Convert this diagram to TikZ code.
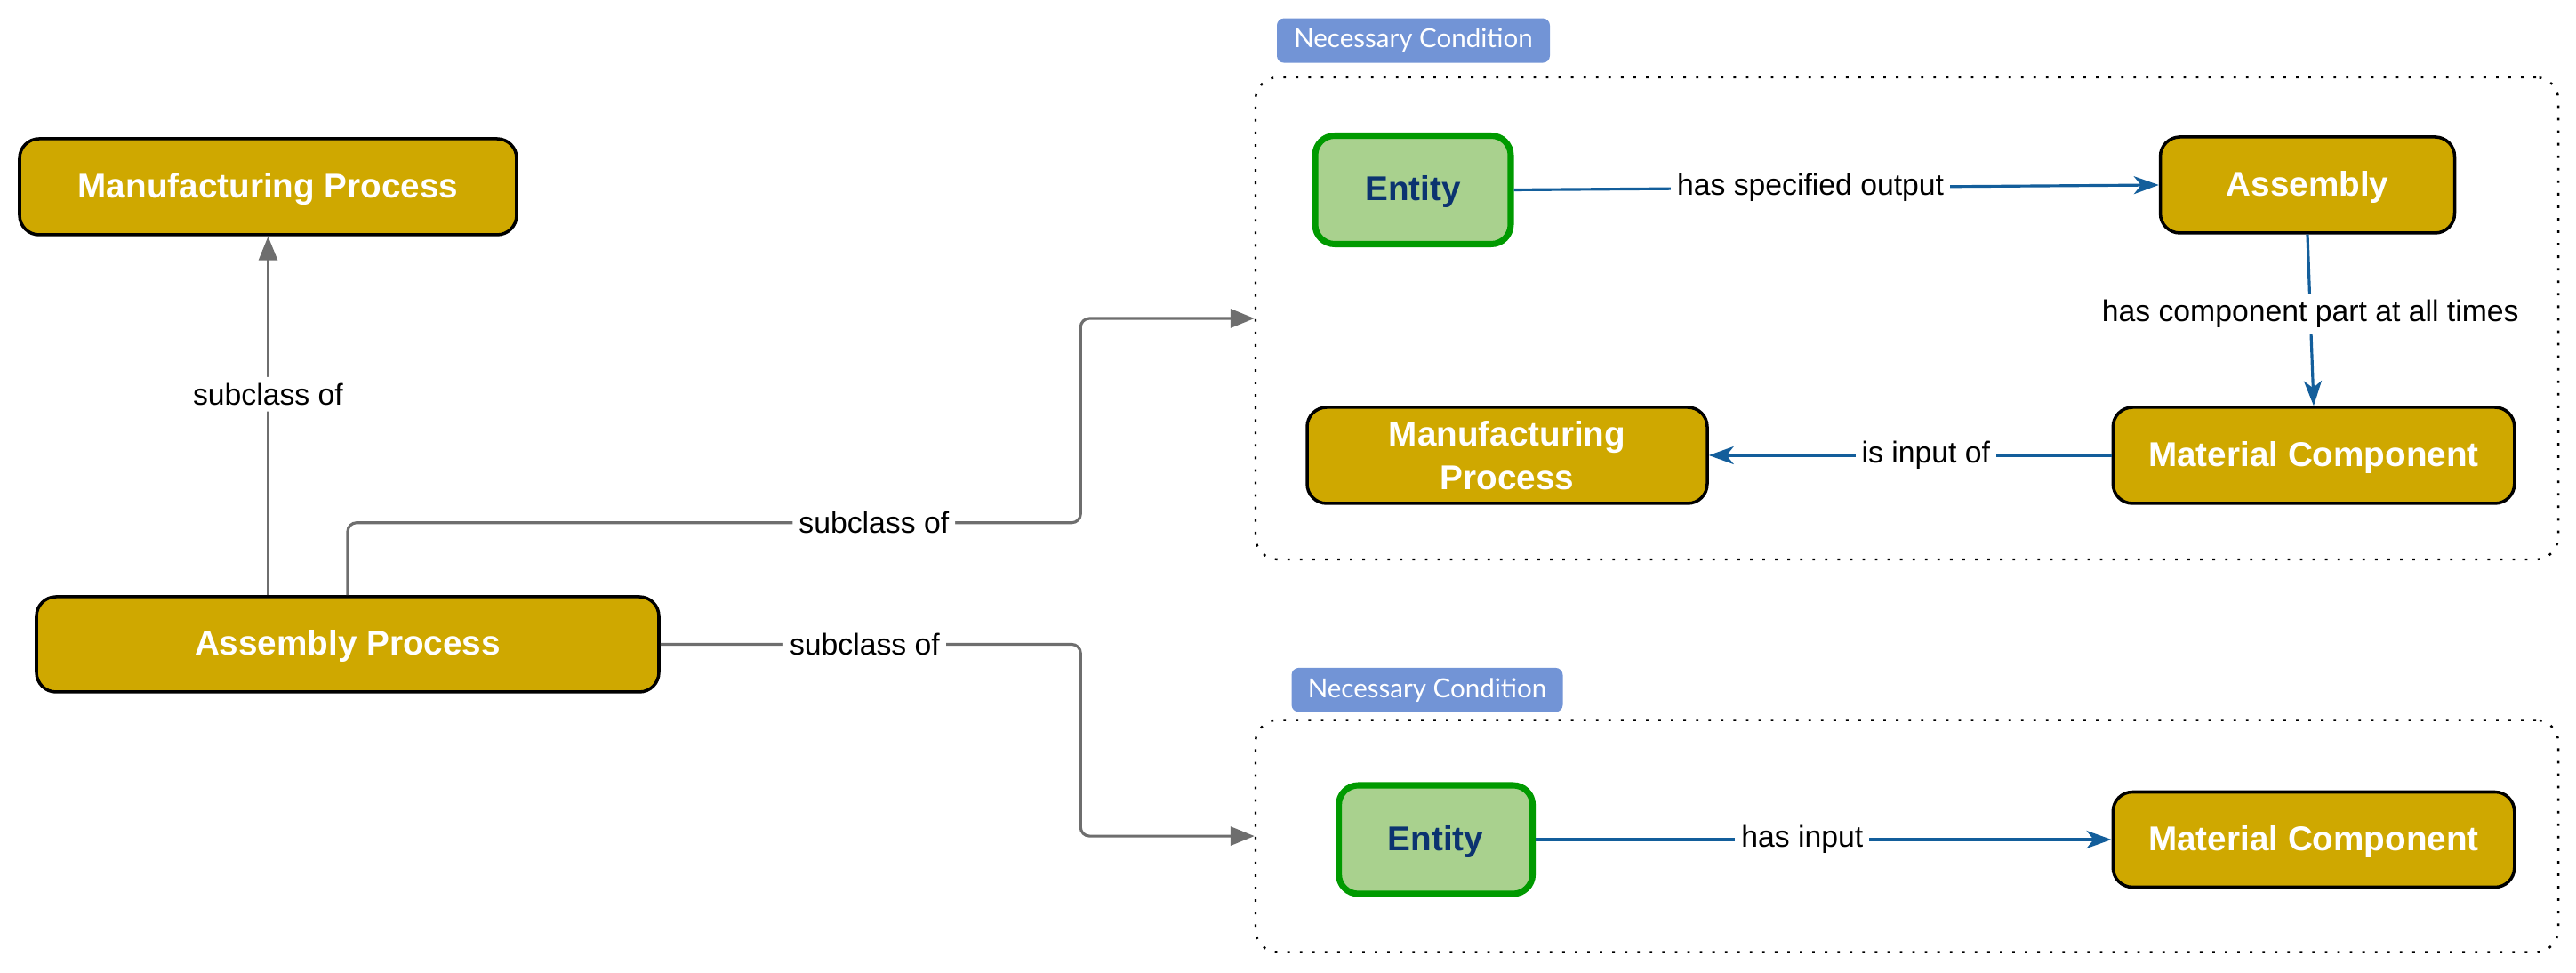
\documentclass[tikz,border=0pt]{standalone}
\usepackage{fontspec}
\setmainfont{Liberation Sans}
\newfontfamily\tagfont{Lato}
\usetikzlibrary{arrows.meta}
\definecolor{gold}{HTML}{CFA800}
\definecolor{leaf}{HTML}{A9D18E}
\definecolor{leafline}{HTML}{009A00}
\definecolor{navy}{HTML}{0B3370}
\definecolor{tagblue}{HTML}{7294D6}
\definecolor{relblue}{HTML}{135E9B}
\definecolor{subgrey}{HTML}{6E6E6E}
\tikzset{
    cls/.style = {
      rounded corners=0.22cm,
      fill=gold,
      draw=black,
      line width=1pt,
      text=white,
      font=\fontsize{11}{14}\selectfont\bfseries,
      align=center,
      text height=0.9em,
      text depth=0.2em,
      inner sep=0pt
    },
    ent/.style = {
      rounded corners=0.22cm,
      fill=leaf,
      draw=leafline,
      line width=2pt,
      text=navy,
      font=\fontsize{11}{14}\selectfont\bfseries,
      text height=0.9em,
      text depth=0.2em,
      inner sep=0pt
    },
    tagbox/.style = {
      rounded corners=0.08cm,
      fill=tagblue,
      text=white,
      font=\tagfont\fontsize{8.4}{10}\selectfont,
      inner sep=0pt
    },
    cond/.style = {
      draw=black,
      rounded corners=0.25cm,
      line width=0.7pt,
      dash pattern=on 0.8pt off 3.2pt,
      inner sep=0pt
    },
    sub/.style = {
      draw=subgrey,
      line width=0.9pt,
      rounded corners=0.1cm,
      -{Triangle[length=0.27cm,width=0.21cm]}
    },
    rel/.style = {
      draw=relblue,
      line width=0.9pt,
      -{Stealth[length=0.28cm,width=0.2cm,inset=0.08cm]}
    },
    lbl/.style = {
      fill=white,
      text=black,
      font=\fontsize{9.6}{11}\selectfont,
      inner sep=2pt
    }
}
\begin{document}
\begin{tikzpicture}
      \useasboundingbox (0,0) rectangle (28.97,10.94);

      \node[cls, minimum width=5.59cm, minimum height=1.08cm] (mpTop) at (3.015, 8.84) {Manufacturing Process};
      \node[cls, minimum width=7.0cm,  minimum height=1.07cm] (ap)    at (3.91,  3.695) {Assembly Process};

      \node[cond, minimum width=14.65cm, minimum height=5.42cm] (cond1) at (21.445, 7.36) {};
      \node[tagbox, minimum width=3.07cm, minimum height=0.50cm] (tag1) at (15.895, 10.484) {Necessary Condition};
      \node[ent, minimum width=2.20cm, minimum height=1.22cm] (ent1) at (15.89, 8.805) {Entity};
      \node[cls, minimum width=3.31cm, minimum height=1.08cm] (asm)  at (25.95, 8.86) {Assembly};
      \node[cls, minimum width=4.515cm, minimum height=1.08cm] (mc1) at (26.02, 5.82) {Material Component};
      \node[cls, minimum width=4.50cm, minimum height=1.08cm, text height={}, text depth={}] (mp2) at (16.95, 5.82) {Manufacturing\\Process};

      \node[cond, minimum width=14.65cm, minimum height=2.61cm] (cond2) at (21.445, 1.539) {};
      \node[tagbox, minimum width=3.05cm, minimum height=0.495cm] (tag2) at (16.05, 3.183) {Necessary Condition};
      \node[ent, minimum width=2.18cm, minimum height=1.22cm] (ent2) at (16.146, 1.50) {Entity};
      \node[cls, minimum width=4.515cm, minimum height=1.07cm] (mc2) at (26.02, 1.50) {Material Component};

      \draw[sub] (ap.north -| mpTop.south) -- node[lbl, pos=0.56] {subclass of} (mpTop.south);
      \draw[sub] (ap.north) -- ++(0,0.815) -| node[lbl, pos=0.359] {subclass of} ([xshift=-1.955cm]cond1.west) -- (cond1.west);
      \draw[sub] (ap.east) -| node[lbl, pos=0.243] {subclass of} ([xshift=-1.955cm]cond2.west) -- (cond2.west);

      \draw[rel] (ent1.east) -- node[lbl, pos=0.46] {has specified output} (asm.west);
      \draw[rel] (asm.south) -- node[lbl, pos=0.46] {has component part at all times} (mc1.north);
      \draw[rel] (mc1.west) -- node[lbl, pos=0.461] {is input of} (mp2.east);
      \draw[rel] (ent2.east) -- node[lbl, pos=0.463] {has input} (mc2.west);
\end{tikzpicture}
\end{document}
